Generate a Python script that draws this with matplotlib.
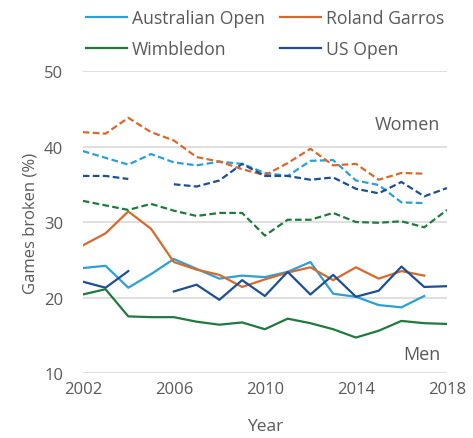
import matplotlib
matplotlib.use("Agg")

import numpy as np
import matplotlib.pyplot as plt

years = list(range(2002, 2019))
nan = np.nan

# men (solid)
men_ao = [23.9, 24.2, 21.3, 23.1, 25.1, 23.8, 22.5, 22.9, 22.7, 23.4, 24.7, 20.5, 20.1, 19.0, 18.7, 20.2, nan]
men_rg = [26.9, 28.5, 31.4, 29.1, 24.7, 23.7, 23.0, 21.4, 22.4, 23.3, 24.0, 22.3, 24.0, 22.5, 23.5, 22.9, nan]
men_wi = [20.4, 21.1, 17.5, 17.4, 17.4, 16.8, 16.4, 16.7, 15.8, 17.2, 16.6, 15.8, 14.7, 15.6, 16.9, 16.6, 16.5]
men_us = [22.1, 21.3, 23.5, nan, 20.8, 21.7, 19.7, 22.3, 20.2, 23.4, 20.4, 23.0, 20.1, 20.9, 24.1, 21.4, 21.5]

# women (dashed)
women_ao = [39.4, 38.5, 37.6, 39.0, 37.9, 37.5, 38.0, 37.7, 36.5, 36.1, 38.1, 38.2, 35.5, 34.9, 32.6, 32.5, nan]
women_rg = [41.9, 41.7, 43.8, 41.9, 40.8, 38.6, 38.0, 37.0, 36.2, 37.8, 39.7, 37.5, 37.7, 35.6, 36.5, 36.4, nan]
women_wi = [32.8, 32.2, 31.6, 32.4, 31.5, 30.8, 31.2, 31.2, 28.2, 30.3, 30.3, 31.2, 30.0, 29.9, 30.1, 29.3, 31.6]
women_us = [36.1, 36.1, 35.7, nan, 35.0, 34.7, 35.5, 37.7, 36.1, 36.1, 35.6, 35.9, 34.4, 33.8, 35.3, 33.4, 34.5]

names = ["Australian Open", "Roland Garros", "Wimbledon", "US Open"]
colors = ["#2a9fd8", "#d9692b", "#1f7a3e", "#1c4f96"]

plt.rcParams["font.family"] = ["Open Sans", "DejaVu Sans"]
grey = "#595959"

fig = plt.figure(figsize=(4.73, 4.39), dpi=100)
ax = fig.add_axes([0.175, 0.148, 0.77, 0.688])

men = [men_ao, men_rg, men_wi, men_us]
women = [women_ao, women_rg, women_wi, women_us]
handles = []
for name, col, m, w in zip(names, colors, men, women):
    h, = ax.plot(years, m, color=col, lw=1.6, label=name)
    ax.plot(years, w, color=col, lw=1.6, ls=(0, (3, 1.5)))
    handles.append(h)

ax.set_xlim(2002, 2018)
ax.set_ylim(10, 50)
ax.set_xticks([2002, 2006, 2010, 2014, 2018])
ax.set_yticks([10, 20, 30, 40, 50])
ax.grid(axis="y", color="#d9d9d9", lw=1.2)
ax.set_axisbelow(True)
for s in ax.spines.values():
    s.set_visible(False)
ax.tick_params(length=0, labelsize=12, colors=grey, pad=6)
ax.tick_params(axis="y", pad=14)

ax.set_xlabel("Year", fontsize=12.5, color=grey, labelpad=15)
ax.set_ylabel("Games broken (%)", fontsize=12, color=grey, labelpad=4)

ax.text(2017.7, 43.0, "Women", fontsize=13, color=grey, ha="right", va="center")
ax.text(2017.7, 12.5, "Men", fontsize=13, color=grey, ha="right", va="center")

# row-wise order: AO, RG / Wimbledon, US Open
order = [0, 2, 1, 3]
leg = fig.legend([handles[i] for i in order], [names[i] for i in order],
                 loc="upper left", bbox_to_anchor=(86 / 473, 1 - 10 / 439),
                 ncol=2, frameon=False, fontsize=12.7, handlelength=2.35,
                 handletextpad=0.25, columnspacing=0.85, labelspacing=0.75,
                 borderpad=0, borderaxespad=0)
for t in leg.get_texts():
    t.set_color(grey)

fig.savefig("out.png", dpi=100)
